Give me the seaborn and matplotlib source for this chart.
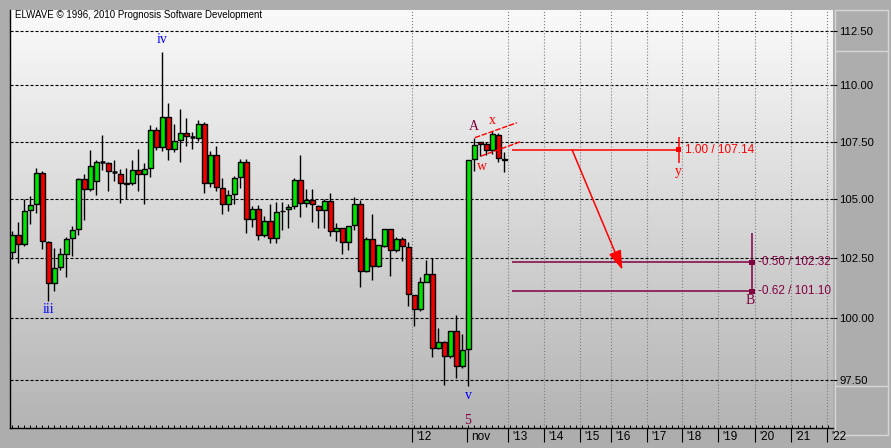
import matplotlib
matplotlib.use("Agg")
import matplotlib.pyplot as plt
import matplotlib.transforms as mtransforms
from matplotlib.colors import LinearSegmentedColormap
from matplotlib.patches import Rectangle
from matplotlib.ticker import FixedLocator, MultipleLocator, NullLocator
import numpy as np
import pandas as pd
import seaborn as sns

# weekly candles (prices)
opens = [102.74, 103.46, 103.08, 104.52, 104.78, 106.14, 103.16, 101.43, 102.10, 102.68,
         103.33, 103.72, 105.86, 105.43, 105.76, 106.60, 106.54, 106.17, 106.08, 105.70,
         105.69, 106.26, 106.08, 106.35, 107.99, 107.27, 108.60, 107.18, 107.56, 107.89,
         107.69, 107.65, 108.29, 105.67, 106.92, 105.47, 104.80, 105.21, 105.93, 106.61,
         104.14, 104.56, 103.46, 104.05, 103.33, 104.47, 104.55, 104.69, 105.82, 104.82,
         104.97, 104.72, 104.53, 104.93, 103.64, 103.74, 103.17, 103.89, 104.78, 101.95,
         103.29, 102.15, 102.98, 103.73, 102.83, 103.29, 102.97, 100.94, 100.36, 101.51,
         101.82, 98.80, 99.02, 98.46, 99.46, 98.05, 98.74, 106.74, 107.47, 107.40,
         107.14, 107.81, 106.73]
highs = [103.63, 104.03, 104.99, 105.13, 106.36, 106.23, 103.21, 102.92, 102.92, 103.39,
         103.83, 105.92, 106.10, 107.15, 106.67, 107.77, 106.59, 106.71, 106.30, 106.35,
         106.67, 107.19, 106.57, 108.21, 108.14, 111.53, 109.20, 108.29, 108.93, 108.53,
         107.94, 108.44, 108.35, 107.09, 107.32, 105.92, 105.40, 105.98, 106.72, 106.75,
         104.70, 104.75, 104.28, 104.80, 104.87, 104.87, 104.79, 105.92, 106.89, 105.43,
         105.45, 104.75, 105.00, 105.25, 103.97, 103.74, 103.85, 105.09, 104.96, 103.38,
         104.36, 103.04, 103.73, 103.73, 103.36, 103.39, 103.16, 100.94, 101.70, 102.42,
         102.49, 99.58, 99.08, 99.46, 100.11, 99.34, 106.70, 107.65, 107.50, 107.50,
         107.95, 107.86, 107.05]
lows = [102.45, 102.30, 103.01, 103.91, 104.38, 102.89, 100.71, 101.12, 101.99, 101.68,
        102.58, 103.47, 104.08, 105.36, 105.19, 106.27, 105.34, 105.78, 104.84, 104.99,
        105.59, 105.34, 104.80, 105.93, 107.11, 107.09, 106.68, 107.03, 106.59, 107.29,
        107.16, 107.53, 105.27, 105.50, 105.36, 104.35, 104.49, 104.78, 105.47, 103.55,
        103.81, 103.26, 103.38, 103.11, 103.11, 103.67, 103.76, 104.59, 104.21, 104.65,
        104.00, 103.76, 103.74, 103.43, 103.21, 102.66, 102.83, 103.66, 101.28, 101.90,
        101.57, 102.11, 102.94, 101.76, 102.74, 102.35, 100.49, 99.67, 100.28, 101.51,
        98.44, 98.74, 97.30, 98.38, 97.59, 97.97, 97.25, 106.21, 106.87, 106.92,
        106.96, 106.61, 106.18]
closes = [103.46, 103.08, 104.49, 104.75, 106.14, 103.19, 101.43, 102.07, 102.66, 103.29,
          103.67, 105.86, 105.43, 106.43, 106.61, 106.60, 106.20, 106.17, 105.69, 105.64,
          106.27, 106.08, 106.30, 107.99, 107.27, 108.60, 107.18, 107.53, 107.89, 107.74,
          107.69, 108.29, 105.67, 106.92, 105.51, 104.80, 105.18, 105.91, 106.61, 104.14,
          104.56, 103.46, 104.05, 103.33, 104.44, 104.49, 104.65, 105.82, 104.82, 104.97,
          104.79, 104.53, 104.93, 103.64, 103.74, 103.17, 103.83, 104.78, 101.95, 103.29,
          102.15, 103.04, 103.73, 102.83, 103.29, 103.00, 100.99, 100.36, 101.49, 101.82,
          98.80, 99.02, 98.46, 99.46, 98.05, 98.70, 106.70, 107.36, 107.40, 107.14,
          107.84, 106.79, 106.69]

price_ticks = [97.5, 100.0, 102.5, 105.0, 107.5, 110.0, 112.5]
time_labels = ["'12", "nov", "'13", "'14", "'15", "'16", "'17", "'18", "'19", "'20", "'21", "'22"]
time_pos = [66.6, 75.8, 82.6, 88.6, 94.6, 99.8, 105.8, 111.6, 117.6, 123.8, 129.8, 135.8]

fib_ratios = [1.00, -0.50, -0.62]
fib_prices = [107.14, 102.32, 101.10]

df = pd.DataFrame({"open": opens, "high": highs, "low": lows, "close": closes})
df["bar"] = np.arange(len(df))

sns.set_theme(style="white")
plt.rcParams["font.family"] = ["Liberation Sans", "DejaVu Sans"]
plt.rcParams["lines.scale_dashes"] = False

W, H = 891, 448
fig = plt.figure(figsize=(W / 100, H / 100), dpi=100, facecolor="#adadad")
L, R, T, B = 10, 833, 10, 428
rect = [L / W, 1 - B / H, (R - L) / W, (B - T) / H]

# gradient background
bg = fig.add_axes(rect, zorder=0)
grad = LinearSegmentedColormap.from_list("g", ["#fafafa", "#b4b4b4"])
bg.imshow(np.linspace(0, 1, 256).reshape(-1, 1), cmap=grad, aspect="auto", extent=[0, 1, 0, 1])
bg.axis("off")

ax = fig.add_axes(rect, zorder=1)
ax.set_facecolor("none")
ax.set_yscale("log")
ax.set_ylim(95.6, 113.45)
ax.set_xlim(-0.38, 136.8)

# grid
for p in price_ticks:
    ax.axhline(p, color="black", lw=0.8, linestyle=(0, (2.2, 1.4)), zorder=1)
for lab, x in zip(time_labels, time_pos):
    if lab != "nov":
        ax.axvline(x, color="#7c7c7c", lw=0.8, linestyle=(0, (0.8, 1.4)), zorder=1)

# candles
ax.vlines(df["bar"], df["low"], df["high"], color="black", lw=1.0, zorder=2)
body = df[df["open"] != df["close"]]
bottom = body[["open", "close"]].min(axis=1)
height = (body["close"] - body["open"]).abs()
colors = np.where(body["close"] > body["open"], "#00e400", "#f20000")
ax.bar(body["bar"], height, bottom=bottom, width=0.76, color=colors,
       edgecolor="black", linewidth=1.0, zorder=3)
doji = df[df["open"] == df["close"]]
ax.hlines(doji["open"], doji["bar"] - 0.45, doji["bar"] + 0.45, color="black", lw=1.8, zorder=3)

# fibonacci targets
red, purple = "#ff0000", "#800040"
fib_end = [111.1, 123.3, 123.3]
fib_col = [red, purple, purple]
for r, p, xe, c in zip(fib_ratios, fib_prices, fib_end, fib_col):
    ax.hlines(p, 83.3, xe, color=c, lw=1.1, zorder=4)
    ax.text(xe + 1.0, p, f"{r:.2f} / {p:.2f}", color=c, fontsize=8.5, va="center", ha="left", zorder=5)
fib_df = pd.DataFrame({"bar": fib_end, "price": fib_prices, "c": fib_col})
sns.scatterplot(data=fib_df, x="bar", y="price", hue="c", palette={red: red, purple: purple},
                marker="s", s=14, linewidth=0, legend=False, ax=ax, zorder=6)
ax.vlines(111.1, 106.58, 107.68, color=red, lw=1.1, zorder=4)
ax.vlines(123.3, 101.0, 103.56, color=purple, lw=1.1, zorder=4)

ax.annotate("", xy=(101.7, 102.0), xytext=(93.3, 107.14),
            arrowprops=dict(arrowstyle="-|>,head_length=0.9,head_width=0.3", color=red, lw=1.1,
                            mutation_scale=13, shrinkA=0, shrinkB=0), zorder=5)
# channel
ax.plot([77.1, 84.1], [107.67, 108.33], color=red, lw=1, linestyle=(0, (4, 1.2)), zorder=5)
ax.plot([78.1, 84.9], [106.86, 107.51], color=red, lw=1, linestyle=(0, (4, 1.2)), zorder=5)

# wave labels
waves = [("iv", 25, 112.07, "#0000ff"), ("iii", 6, 100.37, "#0000ff"), ("v", 76, 96.88, "#0000ff"),
         ("5", 75.9, 95.9, purple), ("A", 77, 108.17, purple), ("x", 80, 108.44, red),
         ("w", 78.3, 106.42, red), ("y", 111.1, 106.2, red), ("B", 123, 100.72, purple)]
for t, x, y, c in waves:
    ax.text(x, y, t, color=c, fontsize=10, ha="center", va="center",
            family=["Liberation Serif", "DejaVu Serif"], zorder=6)

# axes styling
for s in ["top", "right"]:
    ax.spines[s].set_visible(False)
for s in ["left", "bottom"]:
    ax.spines[s].set_color("black")
    ax.spines[s].set_linewidth(1)

ax.yaxis.tick_right()
ax.yaxis.set_major_locator(FixedLocator(price_ticks))
ax.yaxis.set_minor_locator(NullLocator())
ax.set_yticklabels([f"{p:.2f}" for p in price_ticks])
ax.tick_params(axis="y", which="major", direction="out", length=3, width=0.8, color="black",
               pad=1.5, labelsize=8.2, labelcolor="black", right=True, left=False)

ax.set_xticks(time_pos)
ax.set_xticklabels(time_labels)
ax.xaxis.set_minor_locator(MultipleLocator(1))
ax.tick_params(axis="x", which="major", direction="out", length=10, width=0.8, color="black",
               pad=-8, labelsize=8.5, labelcolor="black", bottom=True)
ax.tick_params(axis="x", which="minor", direction="in", length=2.2, width=0.7, color="black", bottom=True)
shift = mtransforms.ScaledTranslation(4.5 / 100, 0, fig.dpi_scale_trans)
for lab in ax.get_xticklabels():
    lab.set_horizontalalignment("left")
    lab.set_verticalalignment("top")
    lab.set_transform(lab.get_transform() + shift)

ax.set_xlabel("")
ax.set_ylabel("")

# right scale panel frame
fig.add_artist(Rectangle((835 / W, 1 - 435 / H), 53 / W, 425 / H, transform=fig.transFigure,
                         fill=False, ec="#d6d6d6", lw=1))
for yy in [51, 386]:
    fig.add_artist(plt.Line2D([835 / W, 888 / W], [1 - yy / H, 1 - yy / H],
                              transform=fig.transFigure, color="#d6d6d6", lw=1))

fig.text(15 / W, 1 - 15 / H, "ELWAVE \u00a9 1996, 2010 Prognosis Software Development",
         fontsize=7, ha="left", va="center", color="black", zorder=10)

fig.savefig("out.png", dpi=100, facecolor=fig.get_facecolor())
